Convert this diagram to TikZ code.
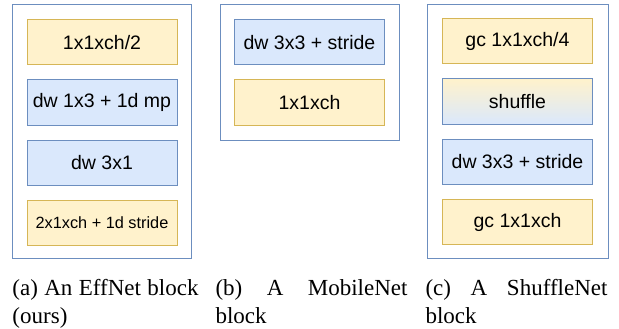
\documentclass[tikz,border=0pt]{standalone}
\usepackage{fontspec}
\setmainfont{Liberation Serif}
\newfontfamily\boxfont{Liberation Sans}
\definecolor{yellowfill}{RGB}{255,242,204}
\definecolor{yellowline}{RGB}{214,182,86}
\definecolor{bluefill}{RGB}{218,232,252}
\definecolor{blueline}{RGB}{108,142,191}
\tikzset{every picture/.style={line width=1pt}}
\tikzset{
  yellowbox/.style={draw=yellowline, fill=yellowfill, minimum width=150pt, minimum height=45pt, inner sep=0pt, font=\boxfont\fontsize{19.5}{23}\selectfont},
  bluebox/.style={draw=blueline, fill=bluefill, minimum width=150pt, minimum height=45pt, inner sep=0pt, font=\boxfont\fontsize{19.5}{23}\selectfont},
  captiontext/.style={anchor=base west, inner sep=0pt, align=justify, font=\fontsize{23}{28}\selectfont}
}

\begin{document}
\begin{tikzpicture}[x=1pt,y=1pt,yscale=-1]
\useasboundingbox (0,0) rectangle (619,329);

%Outer frames
\draw [blueline] (12,5) rectangle (191,258);
\draw [blueline] (220,5) rectangle (399,140);
\draw [blueline] (427,5) rectangle (608,258);

% EffNet block
\node [yellowbox] (effA) at (102,42.5) {1x1xch/2};
\node [bluebox] (effB) at (102,102.5) {dw 1x3 + 1d mp};
\node [bluebox] (effC) at (102,162.5) {dw 3x1};
\node [yellowbox, font=\boxfont\fontsize{16.3}{20}\selectfont] (effD) at (102,222.5) {2x1xch + 1d stride};

% MobileNet block
\node [bluebox] (mobA) at (309.5,42.5) {dw 3x3 + stride};
\node [yellowbox] (mobB) at (309.5,102.5) {1x1xch};

% ShuffleNet block
\node [yellowbox] (shufA) at (517.5,41.5) {gc 1x1xch/4};
\node [bluebox, top color=yellowfill, bottom color=bluefill] (shufB) at (517.5,101.5) {shuffle};
\node [bluebox] (shufC) at (517.5,161.5) {dw 3x3 + stride};
\node [yellowbox] (shufD) at (517.5,222) {gc 1x1xch};

% Captions
\node [captiontext, text width=186pt] (capA) at (12,295) {(a) An EffNet block (ours)};
\node [captiontext, text width=192pt] (capB) at (215,295) {(b) A MobileNet block};
\node [captiontext, text width=182pt] (capC) at (425,295) {(c) A ShuffleNet block};

\end{tikzpicture}
\end{document}
